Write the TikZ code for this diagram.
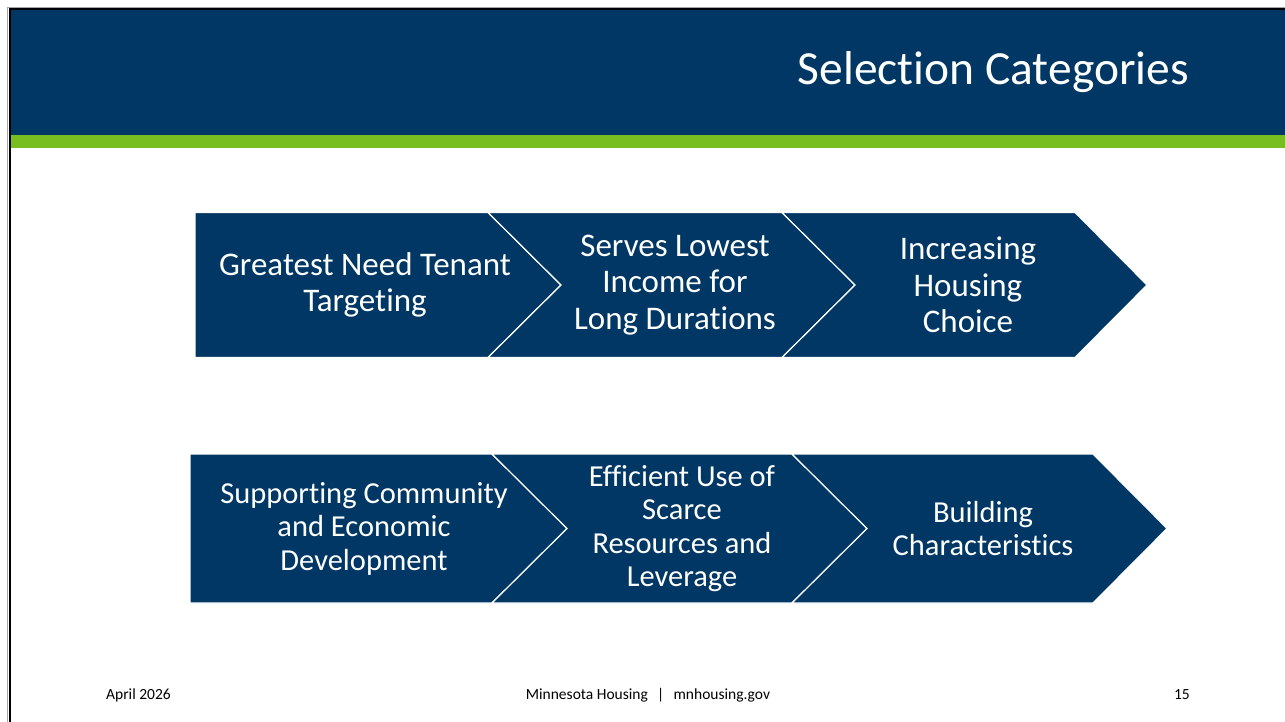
\documentclass[tikz,border=0pt]{standalone}
\usepackage{fontspec}
\setmainfont[Ligatures=NoCommon]{Carlito}
\definecolor{navy}{HTML}{003764}
\definecolor{lime}{HTML}{78BE20}
\tikzset{
  chev/.style={fill=navy, draw=white, line width=1.2pt, line join=miter},
  chevtext/.style={text=white, align=center, inner sep=0pt, font=\fontsize{33}{36.5}\selectfont},
  chevtextb/.style={text=white, align=center, inner sep=0pt, font=\fontsize{30.5}{33.5}\selectfont},
  foot/.style={text=black, inner sep=0pt, font=\fontsize{15.5}{18}\selectfont, anchor=base}
}
\begin{document}
\begin{tikzpicture}[x=1pt,y=-1pt]
\useasboundingbox (0,0) rectangle (1285,722);
\fill[white] (0,0) rectangle (1285,722);
% header
\fill[navy] (9,9) rectangle (1285,135);
\fill[lime] (9,135) rectangle (1285,148);
% frame
\draw[gray!70, line width=1pt] (7.5,722) -- (7.5,7.5) -- (1285,7.5);
\draw[black, line width=2pt] (9.5,722) -- (9.5,9) -- (1285,9);
\node[text=white, anchor=base east, inner sep=0pt, font=\fontsize{47.5}{54}\selectfont] (title) at (1189,85) {Selection Categories};
% row 1
\draw[chev] (195,212.5) -- (488,212.5) -- (561,285) -- (488,357.5) -- (195,357.5) -- cycle;
\draw[chev] (488,212.5) -- (782,212.5) -- (855,285) -- (782,357.5) -- (488,357.5) -- (561,285) -- cycle;
\draw[chev] (782,212.5) -- (1075,212.5) -- (1147,285) -- (1075,357.5) -- (782,357.5) -- (855,285) -- cycle;
\node[chevtext] (a1) at (365,285) {Greatest Need Tenant\\Targeting};
\node[chevtext] (a2) at (675,285) {Serves Lowest\\Income for\\Long Durations};
\node[chevtext] (a3) at (968,285) {Increasing\\Housing\\Choice};
% row 2
\draw[chev] (190,454) -- (492,454) -- (567,528.5) -- (492,603) -- (190,603) -- cycle;
\draw[chev] (492,454) -- (792,454) -- (867,528.5) -- (792,603) -- (492,603) -- (567,528.5) -- cycle;
\draw[chev] (792,454) -- (1093,454) -- (1167,528.5) -- (1093,603) -- (792,603) -- (867,528.5) -- cycle;
\node[chevtextb] (b1) at (364,528.5) {Supporting Community\\and Economic\\Development};
\node[chevtextb] (b2) at (682,528.5) {Efficient Use of\\Scarce\\Resources and\\Leverage};
\node[chevtextb] (b3) at (983,528.5) {Building\\Characteristics};
% footer
\node[foot, anchor=base west] (date) at (106,699) {April 2026};
\node[foot] (site) at (648,699) {Minnesota Housing\hspace{0.6em}\textbar\hspace{0.6em}mnhousing.gov};
\node[foot, anchor=base east] (page) at (1190,699) {15};
\end{tikzpicture}
\end{document}
